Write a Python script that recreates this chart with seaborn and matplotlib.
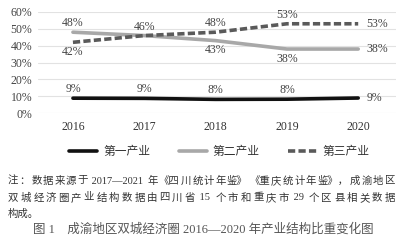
import matplotlib
matplotlib.use("Agg")
import matplotlib.pyplot as plt
import seaborn as sns
import pandas as pd

years = ["2016", "2017", "2018", "2019", "2020"]
primary = [8.8, 8.7, 8.1, 8.2, 8.9]
secondary = [48, 46, 43, 38, 38]
tertiary = [42, 46, 48, 53, 53]
primary_lbl = ["9%", "9%", "8%", "8%", "9%"]
secondary_lbl = ["48%", "46%", "43%", "38%", "38%"]
tertiary_lbl = ["42%", "", "48%", "53%", "53%"]
series_names = ["第一产业", "第二产业", "第三产业"]
yticks = [0, 10, 20, 30, 40, 50, 60]
note_lines = [
    ["注", "：", "数", "据", "来", "源", "于", " 2017—2021 ", "年", "《四", "川", "统", "计", "年", "鉴》", "《重", "庆", "统", "计", "年", "鉴》，", "成", "渝", "地", "区"],
    ["双", "城", "经", "济", "圈", "产", "业", "结", "构", "数", "据", "由", "四", "川", "省", " 15 ", "个", "市", "和", "重", "庆", "市", " 29 ", "个", "区", "县", "相", "关", "数", "据"],
]
note_last = "构成。"
caption = "图 1    成渝地区双城经济圈 2016—2020 年产业结构比重变化图"

sns.set_theme(style="white")
plt.rcParams['font.family'] = ['Liberation Serif', 'Noto Sans CJK SC']

df = pd.DataFrame({
    "x": list(range(5)) * 3,
    "v": primary + secondary + tertiary,
    "s": [series_names[0]] * 5 + [series_names[1]] * 5 + [series_names[2]] * 5,
})

fig = plt.figure(figsize=(4.06, 2.40), dpi=100)
ax = fig.add_axes([38/406, 1-113/240, 358/406, 101/240])

colors = {"第一产业": "#111111", "第二产业": "#a8a8a8", "第三产业": "#5a5a5a"}
sns.lineplot(data=df, x="x", y="v", hue="s", palette=colors, ax=ax, linewidth=2.6, legend=False)
lines = ax.get_lines()
lines[2].set_dashes((2.0, 0.9))

ax.set_xlim(-0.49, 4.53)
ax.set_ylim(0, 60)
ax.set_yticks(yticks)
ax.set_yticklabels([f"{t}%" for t in yticks], fontsize=8.5, color="#444444")
ax.set_xticks(range(5))
ax.set_xticklabels(years, fontsize=8.5, color="#333333")
ax.tick_params(axis='x', length=0, pad=5.5)
ax.tick_params(axis='y', length=0, pad=4)
ax.grid(axis='y', color="#e2e2e2", linewidth=0.8)
for sp in ax.spines.values():
    sp.set_visible(False)
ax.set_xlabel("")
ax.set_ylabel("")

tc = "#444444"
fs = 8.5
def lab(x, y, t, pos):
    if not t:
        return
    if pos == "above":
        ax.annotate(t, (x, y), xytext=(0, 6.5), textcoords="offset points", ha="center", va="center", fontsize=fs, color=tc)
    elif pos == "below":
        ax.annotate(t, (x, y), xytext=(0, -7), textcoords="offset points", ha="center", va="center", fontsize=fs, color=tc)
    else:
        ax.annotate(t, (x, y), xytext=(6, 0), textcoords="offset points", ha="left", va="center", fontsize=fs, color=tc)

for i in range(5):
    lab(i, primary[i], primary_lbl[i], "right" if i == 4 else "above")
sec_pos = ["above", "above", "below", "below", "right"]
ter_pos = ["below", "above", "above", "above", "right"]
for i in range(5):
    lab(i, secondary[i], secondary_lbl[i], sec_pos[i])
    lab(i, tertiary[i], tertiary_lbl[i], ter_pos[i])

from matplotlib.lines import Line2D
handles = [Line2D([], [], color=colors[n], linewidth=2.6) for n in series_names]
handles[2].set_dashes((2.0, 0.9))
fig.legend(handles, series_names, loc="center", bbox_to_anchor=(0.54, 1-152/240), ncol=3,
           frameon=False, fontsize=8.5, handlelength=2.4, columnspacing=2.4, handletextpad=0.5,
           labelcolor="#333333")

note_fs = 7.5
renderer = fig.canvas.get_renderer()
W = 406.0

def justify(tokens, y_px, x0_px, x1_px):
    objs = [fig.text(0, 1 - y_px/240, t, fontsize=note_fs, color="#333333", ha="left", va="center") for t in tokens]
    widths = [o.get_window_extent(renderer).width for o in objs]
    gap = (x1_px - x0_px - sum(widths)) / (len(tokens) - 1)
    x = x0_px
    for o, w in zip(objs, widths):
        o.set_x(x / W)
        x += w + gap

justify(note_lines[0], 181, 8, 395)
justify(note_lines[1], 198, 8, 395)
fig.text(8/406, 1-214/240, note_last, fontsize=note_fs, color="#333333", ha="left", va="center")

cap = fig.text(0.5, 1-229/240, caption, fontsize=9, color="#555555", ha="center", va="center")

fig.savefig("out.png", dpi=100)
